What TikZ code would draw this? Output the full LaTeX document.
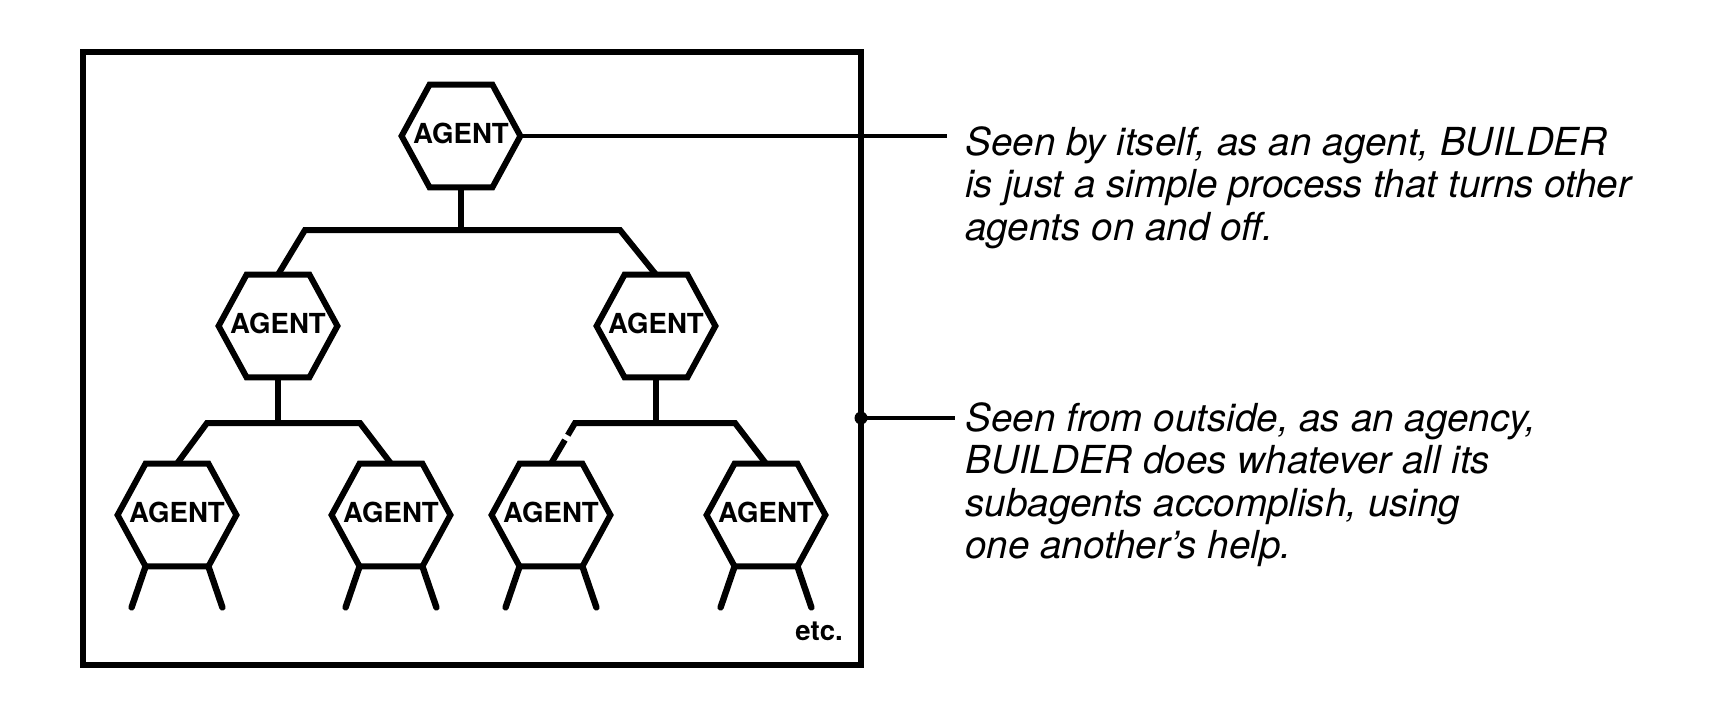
\documentclass[tikz,border=0pt]{standalone}
\usepackage{fontspec}
\setsansfont{TeX Gyre Heros}
\usetikzlibrary{calc}
\begin{document}
\begin{tikzpicture}[x=0.5pt,y=-0.5pt,
  agent/.style={rectangle, inner sep=0pt, minimum width=59pt, minimum height=51pt,
    font=\sffamily\bfseries\fontsize{13.8}{14}\selectfont, text depth=3pt},
  hexline/.style={line width=3pt, line join=miter},
  treeline/.style={line width=3pt},
  legline/.style={line width=3.2pt, line cap=round},
  desc/.style={font=\sffamily\itshape\fontsize{19.3}{21.3}\selectfont, align=left, inner sep=0pt, anchor=base west},
  conn/.style={line width=2pt},
  boxframe/.style={draw, line width=2.6pt, rectangle, inner sep=0pt, minimum width=389pt, minimum height=306.5pt}
]
\useasboundingbox (0,0) rectangle (1728,712);

% frame
\node[boxframe] (frame) at (472,358.5) {};

% agents
\node[agent] (t)  at (461,136) {AGENT};
\node[agent] (ml) at (278,326) {AGENT};
\node[agent] (mr) at (656,326) {AGENT};
\node[agent] (a)  at (177,515) {AGENT};
\node[agent] (b)  at (391,515) {AGENT};
\node[agent] (c)  at (551,515) {AGENT};
\node[agent] (d)  at (766,515) {AGENT};

\foreach \n in {t,ml,mr,a,b,c,d}
  \draw[hexline] (\n.west) -- ([xshift=14pt]\n.north west) -- ([xshift=-14pt]\n.north east)
    -- (\n.east) -- ([xshift=-14pt]\n.south east) -- ([xshift=14pt]\n.south west) -- cycle;

% tree connectors
\coordinate (b1L) at (305,230);
\coordinate (b1R) at (620,230);
\coordinate (b2L) at (207,423);
\coordinate (b2R) at (360,423);
\coordinate (b3L) at (575,423);
\coordinate (b3R) at (735,423);

\draw[treeline] (t.south) -- (t.south |- b1L);
\draw[treeline, line join=miter] (ml.north) -- (b1L) -- (b1R) -- (mr.north);

\draw[treeline] (ml.south) -- (ml.south |- b2L);
\draw[treeline, line join=miter] (a.north) -- (b2L) -- (b2R) -- (b.north);

\draw[treeline] (mr.south) -- (mr.south |- b3L);
\draw[treeline, line join=miter] ($(b3L)!0.3!(c.north)$) -- (b3L) -- (b3R) -- (d.north);
\draw[treeline] ($(b3L)!0.42!(c.north)$) -- (c.north);

% legs
\foreach \n in {a,b,c,d} {
  \draw[legline] ([xshift=14pt]\n.south west) -- ++(-14,41);
  \draw[legline] ([xshift=-14pt]\n.south east) -- ++(14,41);
}

\node[font=\sffamily\bfseries\fontsize{13.8}{14}\selectfont, anchor=base west, inner sep=0pt] (etc) at (795,640) {etc.};

% annotations
\coordinate (e1) at (947,136);
\draw[conn] (t.east) -- (e1);
\node[desc] (txt1) at (965,240.2) {Seen by itself, as an agent, BUILDER\\is just a simple process that turns other\\agents on and off.};

\coordinate (j) at (861,418);
\coordinate (e2) at (955,418);
\fill (j) circle[radius=6.5];
\draw[line width=1.8pt] (j) -- (e2);
\node[desc] (txt2) at (965,558.8) {Seen from outside, as an agency,\\BUILDER does whatever all its\\subagents accomplish, using\\one another's help.};
\end{tikzpicture}
\end{document}
